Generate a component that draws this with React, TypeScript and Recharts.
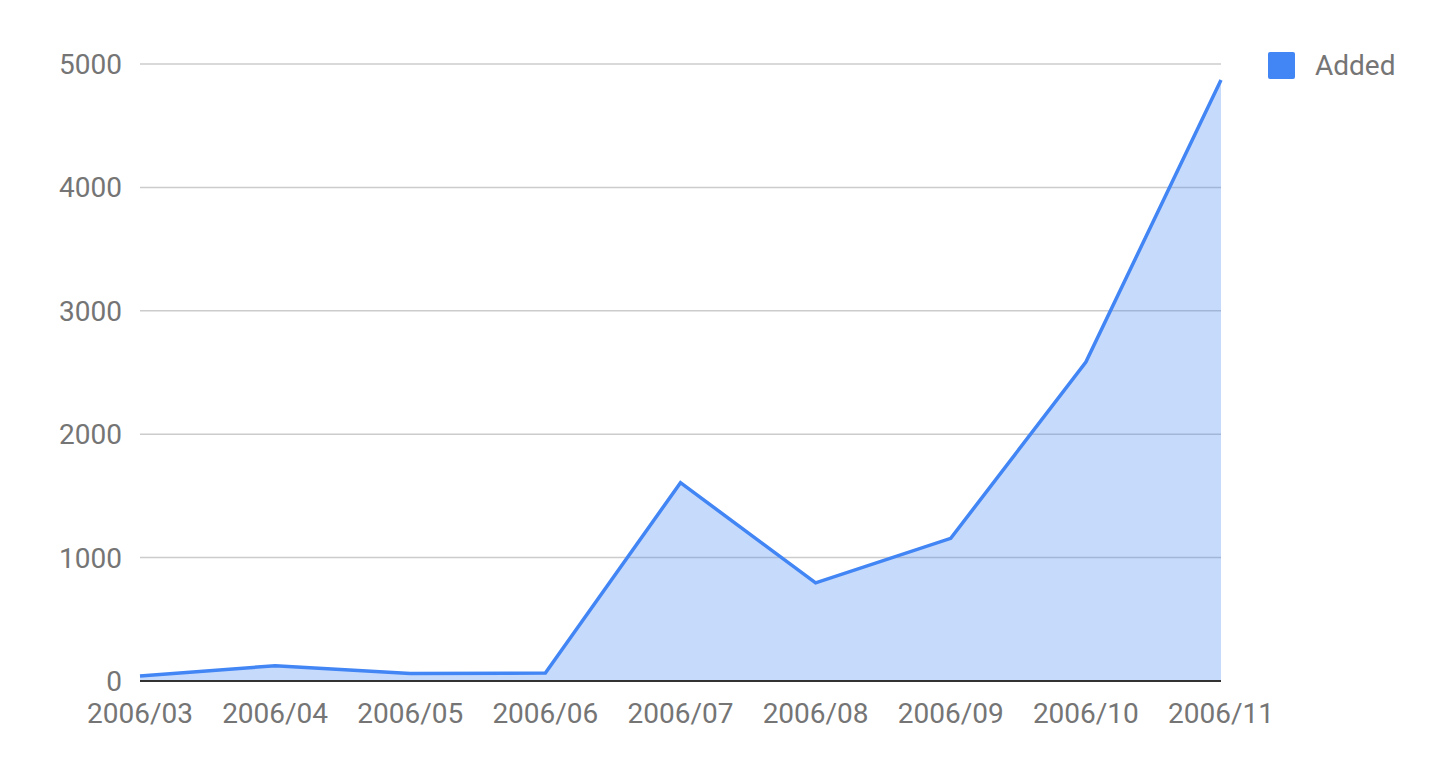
import React from "react";
import { AreaChart, Area, XAxis, YAxis, CartesianGrid, Legend } from "recharts";

const months = ["2006/03", "2006/04", "2006/05", "2006/06", "2006/07", "2006/08", "2006/09", "2006/10", "2006/11"];
const added = [40, 124, 60, 65, 1607, 795, 1156, 2585, 4870];
const yTicks = [0, 1000, 2000, 3000, 4000, 5000];

const data = months.map((m, i) => ({ month: m, Added: added[i] }));

const FONT = "Roboto, Arial, sans-serif";
const TICK_COLOR = "#757575";
const LINE = "#4285f4";
const FS = 28;

const LegendContent = () => (
  <div style={{ display: "flex", alignItems: "center", fontFamily: FONT, fontSize: FS, color: TICK_COLOR }}>
    <div style={{ width: 27, height: 27, background: LINE, borderRadius: 2, marginRight: 20 }} />
    <span>Added</span>
  </div>
);

export default function App() {
  return (
    <div style={{ position: "fixed", left: 0, top: 0, width: 1440, height: 760, background: "#fff" }}>
      <AreaChart width={1440} height={760} data={data} margin={{ top: 64, right: 219, bottom: 49, left: 0 }}>
        <CartesianGrid vertical={false} stroke="#cccccc" strokeWidth={1.5} />
        <XAxis
          dataKey="month"
          height={30}
          interval={0}
          tickLine={false}
          tickSize={0}
          tickMargin={22}
          axisLine={{ stroke: "#333333", strokeWidth: 2 }}
          tick={{ fill: TICK_COLOR, fontSize: FS, fontFamily: FONT }}
        />
        <YAxis
          width={140}
          domain={[0, 5000]}
          ticks={yTicks}
          tickLine={false}
          axisLine={false}
          tickSize={0}
          tickMargin={18}
          tick={{ fill: TICK_COLOR, fontSize: FS, fontFamily: FONT }}
        />
        <Legend
          layout="horizontal"
          verticalAlign="middle"
          align="center"
          content={<LegendContent />}
          wrapperStyle={{ position: "absolute", left: 1268, top: 49, width: 170 }}
        />
        <Area
          type="linear"
          dataKey="Added"
          stroke={LINE}
          strokeWidth={3.5}
          fill={LINE}
          fillOpacity={0.3}
          dot={false}
          activeDot={false}
          isAnimationActive={false}
        />
      </AreaChart>
    </div>
  );
}
